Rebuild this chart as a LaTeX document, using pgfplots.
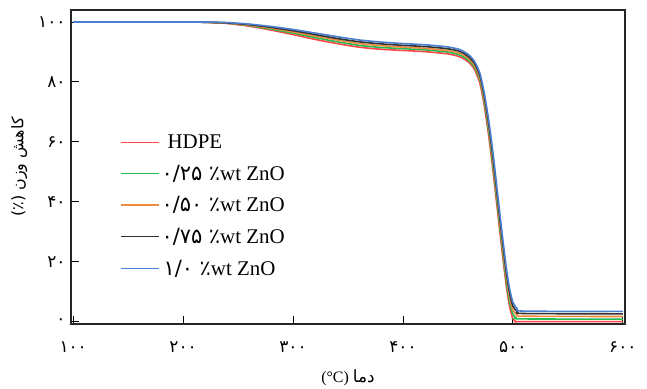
\documentclass[border=0pt]{standalone}
\usepackage{fontspec}
\setmainfont{Liberation Serif}
\newfontfamily\arabicfont[Script=Arabic]{DejaVu Sans}
\TeXXeTstate=1
\usepackage{pgfplots}
\pgfplotsset{compat=1.18}
\definecolor{cred}{HTML}{FF4444}
\definecolor{cgreen}{HTML}{22BB55}
\definecolor{corange}{HTML}{EE8A3C}
\definecolor{cblack}{HTML}{333333}
\definecolor{cblue}{HTML}{4A7FD0}
\begin{document}
\begin{tikzpicture}
\begin{axis}[
  scale only axis, width=554bp, height=314bp,
  xmin=98, xmax=602, ymin=-0.8, ymax=104,
  axis line style={line width=2.2bp, color=black!85},
  tick align=inside, xtick pos=bottom, ytick pos=left,
  major tick length=8bp, tick style={line width=0.9bp, black},
  xtick={100,200,300,400,500,600},
  xticklabels={۱۰۰,۲۰۰,۳۰۰,۴۰۰,۵۰۰,۶۰۰},
  ytick={0,20,40,60,80,100},
  yticklabels={۰,۲۰,۴۰,۶۰,۸۰,۱۰۰},
  ticklabel style={font=\arabicfont\fontsize{17}{19}\selectfont},
  xticklabel style={yshift=-14bp},
  yticklabel style={xshift=-2bp},
  xlabel={(°C) {\arabicfont\fontsize{17}{19}\selectfont دما}},
  xlabel style={font=\fontsize{16}{18}\selectfont, yshift=-10bp},
  ylabel={{\arabicfont (٪) \beginR کاهش وزن\endR}},
  ylabel style={font=\fontsize{16}{18}\selectfont, yshift=4bp},
  legend style={at={(0.083,0.616)}, anchor=north west, draw=none, fill=none,
    font=\fontsize{21}{23}\selectfont, row sep=11bp, cells={anchor=west}},
  legend image code/.code={\draw[mark repeat=2,mark phase=2,#1, line width=1.4bp] plot coordinates {(0bp,0bp) (19bp,0bp) (38bp,0bp)};},
  every axis plot/.append style={line width=1.6bp, smooth, tension=0.4},
]
\addplot[cred] coordinates {(100,100)(200,100)(220,99.9)(240,99.5)(260,98.6)(280,97.3)(300,95.8)(320,94.2)(340,92.8)(360,91.6)(380,90.9)(400,90.5)(420,90.1)(440,89.4)(450,88.6)(455,87.8)(460,86.5)(465,84.2)(470,79.5)(474,72)(478,62)(482,50)(486,37)(490,24)(494,12)(497,5)(500,1)(503,0)(510,0)(600,0)};
\addlegendentry{\hspace{6bp}HDPE}
\addplot[cgreen] coordinates {(100,100)(200,100)(220,99.9)(240,99.6)(260,98.8)(280,97.6)(300,96.3)(320,94.8)(340,93.4)(360,92.2)(380,91.5)(400,91.1)(420,90.7)(440,90.0)(450,89.2)(455,88.4)(460,87.1)(465,84.9)(470,80.5)(474,73.2)(478,63.5)(482,51.5)(486,38.5)(490,25.5)(494,13.5)(497,6.5)(500,2.5)(503,1.2)(508,0.9)(600,0.8)};
\addlegendentry{{\arabicfont ۰/۲۵ ٪}wt ZnO}
\addplot[corange] coordinates {(100,100)(200,100)(220,99.9)(240,99.6)(260,98.9)(280,97.9)(300,96.7)(320,95.3)(340,94.0)(360,92.8)(380,92.1)(400,91.6)(420,91.2)(440,90.5)(450,89.8)(455,89.0)(460,87.7)(465,85.5)(470,81.3)(474,74.2)(478,64.8)(482,53)(486,40)(490,27)(494,15)(497,8)(500,3.8)(504,2.2)(510,1.8)(600,1.7)};
\addlegendentry{{\arabicfont ۰/۵۰ ٪}wt ZnO}
\addplot[cblack] coordinates {(100,100)(200,100)(220,99.9)(240,99.7)(260,99.1)(280,98.2)(300,97.1)(320,95.8)(340,94.5)(360,93.4)(380,92.7)(400,92.2)(420,91.8)(440,91.1)(450,90.4)(455,89.6)(460,88.3)(465,86.2)(470,82.1)(474,75.2)(478,66)(482,54.5)(486,41.5)(490,28.5)(494,16.5)(497,9.5)(500,5.2)(504,3.3)(510,2.7)(600,2.6)};
\addlegendentry{{\arabicfont ۰/۷۵ ٪}wt ZnO}
\addplot[cblue] coordinates {(100,100)(200,100)(220,100)(240,99.8)(260,99.3)(280,98.5)(300,97.5)(320,96.3)(340,95.1)(360,94.0)(380,93.3)(400,92.8)(420,92.4)(440,91.7)(450,91.0)(455,90.2)(460,89.0)(465,86.9)(470,82.9)(474,76.2)(478,67.2)(482,56)(486,43)(490,30)(494,18)(497,11)(500,6.5)(504,4.3)(510,3.5)(600,3.4)};
\addlegendentry{\hspace{2bp}{\arabicfont ۱/۰ ٪}wt ZnO}
\end{axis}
\path ([yshift=10bp]current axis.north) ([xshift=22bp]current axis.east)
      ([xshift=-71bp]current axis.west) ([yshift=-65bp]current axis.south);
\end{tikzpicture}
\end{document}
